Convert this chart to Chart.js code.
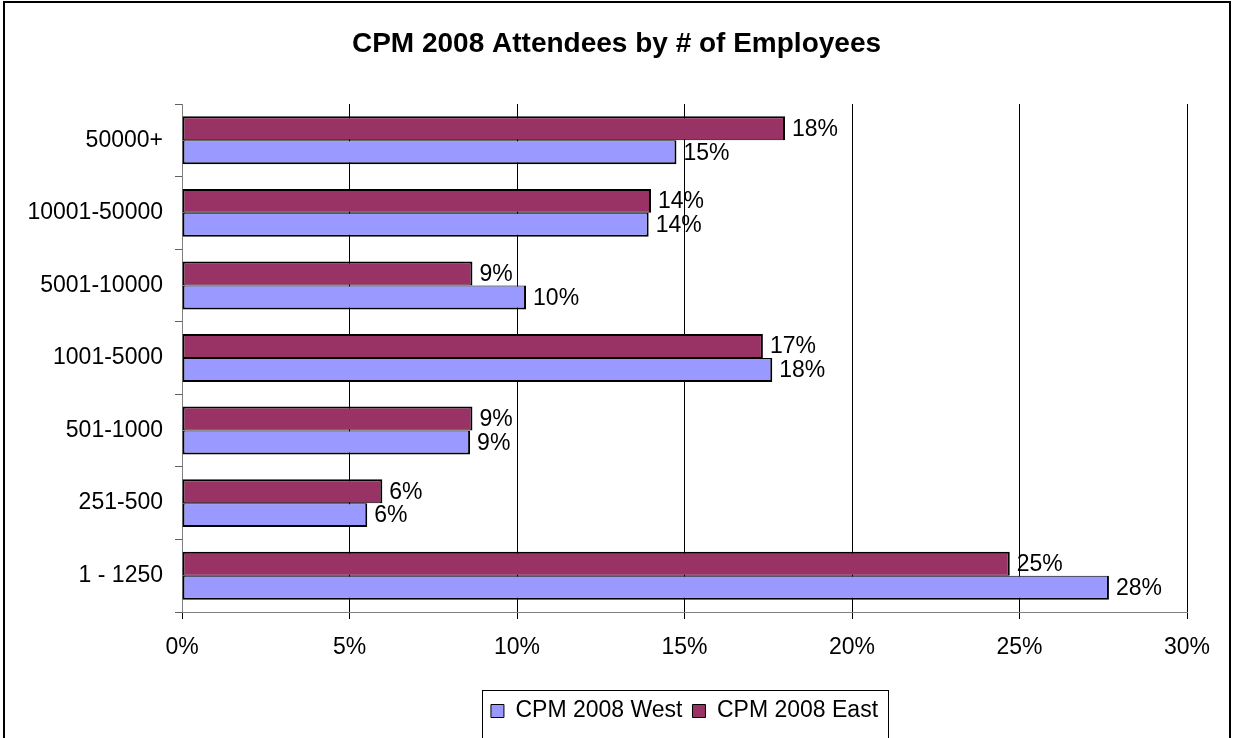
<!DOCTYPE html>
<html>
<head>
<meta charset="utf-8">
<script src="https://cdn.jsdelivr.net/npm/chart.js@4/dist/chart.umd.min.js"></script>
<style>
  html, body { margin: 0; padding: 0; background: #ffffff; }
  #wrap { width: 1233px; height: 738px; position: relative; }
</style>
</head>
<body>
<div id="wrap"><canvas id="c" width="1233" height="738"></canvas></div>
<script>
const titleText = 'CPM 2008 Attendees by # of Employees';
const categories = ['50000+', '10001-50000', '5001-10000', '1001-5000', '501-1000', '251-500', '1 - 1250'];
const westLabel = 'CPM 2008 West';
const eastLabel = 'CPM 2008 East';
const westValues = [14.76, 13.93, 10.27, 17.62, 8.60, 5.53, 27.67];
const eastValues = [18.00, 14.00, 8.67, 17.34, 8.67, 5.98, 24.71];
const xMin = 0, xMax = 30, xStep = 5;

const FONT = "'Liberation Sans', Arial, sans-serif";

const valueLabels = {
  id: 'valueLabels',
  afterDatasetsDraw(chart) {
    const ctx = chart.ctx;
    ctx.save();
    ctx.font = '23px ' + FONT;
    ctx.fillStyle = '#000';
    ctx.textAlign = 'left';
    ctx.textBaseline = 'middle';
    chart.data.datasets.forEach((ds, di) => {
      const meta = chart.getDatasetMeta(di);
      meta.data.forEach((el, i) => {
        ctx.fillText(Math.round(ds.data[i]) + '%', el.x + 7, el.y + 1);
      });
    });
    ctx.restore();
  }
};

const frames = {
  id: 'frames',
  afterDraw(chart) {
    const ctx = chart.ctx;
    ctx.save();
    const lg = chart.legend;
    if (lg && lg.legendHitBoxes && lg.legendHitBoxes.length) {
      let l = Infinity, r = -Infinity;
      lg.legendHitBoxes.forEach(h => { l = Math.min(l, h.left); r = Math.max(r, h.left + h.width); });
      ctx.strokeStyle = '#000';
      ctx.lineWidth = 1;
      ctx.strokeRect(Math.round(l - 9) + 0.5, Math.round(lg.top) + 0.5, Math.round(r - l + 19), 80);
    }
    ctx.strokeStyle = '#000';
    ctx.lineWidth = 2;
    ctx.beginPath();
    ctx.moveTo(4, 745);
    ctx.lineTo(4, 2);
    ctx.lineTo(1230, 2);
    ctx.lineTo(1230, 745);
    ctx.stroke();
    ctx.restore();
  }
};

new Chart(document.getElementById('c'), {
  type: 'bar',
  data: {
    labels: categories,
    datasets: [
      {
        label: eastLabel,
        data: eastValues,
        backgroundColor: '#993366',
        borderColor: '#000000',
        borderWidth: { top: 2, left: 2, right: 2, bottom: 1 },
        borderSkipped: false,
        xAxisID: 'x', yAxisID: 'y',
        categoryPercentage: 0.66,
        barPercentage: 1.0
      },
      {
        label: westLabel,
        data: westValues,
        backgroundColor: '#9999FF',
        borderColor: '#000000',
        borderWidth: { top: 1, left: 2, right: 2, bottom: 2 },
        borderSkipped: false,
        xAxisID: 'x', yAxisID: 'y',
        categoryPercentage: 0.66,
        barPercentage: 1.0
      }
    ]
  },
  options: {
    indexAxis: 'y',
    responsive: false,
    animation: false,
    devicePixelRatio: 1,
    layout: { padding: { top: 0, left: 0, right: 0, bottom: 5.5 } },
    plugins: {
      title: {
        display: true,
        text: titleText,
        color: '#000',
        font: { family: FONT, size: 28, weight: 'bold' },
        padding: { top: 27.7, bottom: 42.7 }
      },
      legend: {
        display: true,
        position: 'bottom',
        fullSize: false,
        reverse: true,
        labels: {
          color: '#000',
          font: { family: FONT, size: 23 },
          boxWidth: 13,
          boxHeight: 13,
          padding: 10,
          generateLabels(chart) {
            return chart.data.datasets.map((ds, i) => ({
              text: ds.label,
              fillStyle: ds.backgroundColor,
              strokeStyle: '#000',
              lineWidth: 1,
              hidden: false,
              datasetIndex: i
            }));
          }
        }
      },
      tooltip: { enabled: false }
    },
    scales: {
      x: {
        type: 'linear',
        position: 'bottom',
        min: xMin,
        max: xMax,
        ticks: {
          stepSize: xStep,
          color: '#000',
          font: { family: FONT, size: 23 },
          padding: 15,
          callback: v => v + '%'
        },
        grid: {
          color: c => c.index === 0 ? '#808080' : '#000000',
          lineWidth: 1,
          drawTicks: true,
          tickLength: 7,
          tickColor: '#000000'
        },
        border: { display: true, color: '#808080', width: 1 },
        afterFit(s) { s.height = 77.5; }
      },
      y: {
        type: 'category',
        position: 'left',
        ticks: {
          color: '#000',
          font: { family: FONT, size: 23 },
          padding: 12
        },
        grid: {
          display: true,
          drawOnChartArea: false,
          drawTicks: true,
          tickLength: 7,
          color: '#808080',
          tickColor: '#606060'
        },
        border: { display: true, color: '#808080', width: 1 },
        afterFit(s) { s.width = 182; }
      },
      yRightSpace: {
        type: 'category',
        position: 'right',
        display: true,
        ticks: { display: false },
        grid: { display: false },
        border: { display: false },
        afterFit(s) { s.width = 46; }
      }
    }
  },
  plugins: [valueLabels, frames]
});
</script>
</body>
</html>
